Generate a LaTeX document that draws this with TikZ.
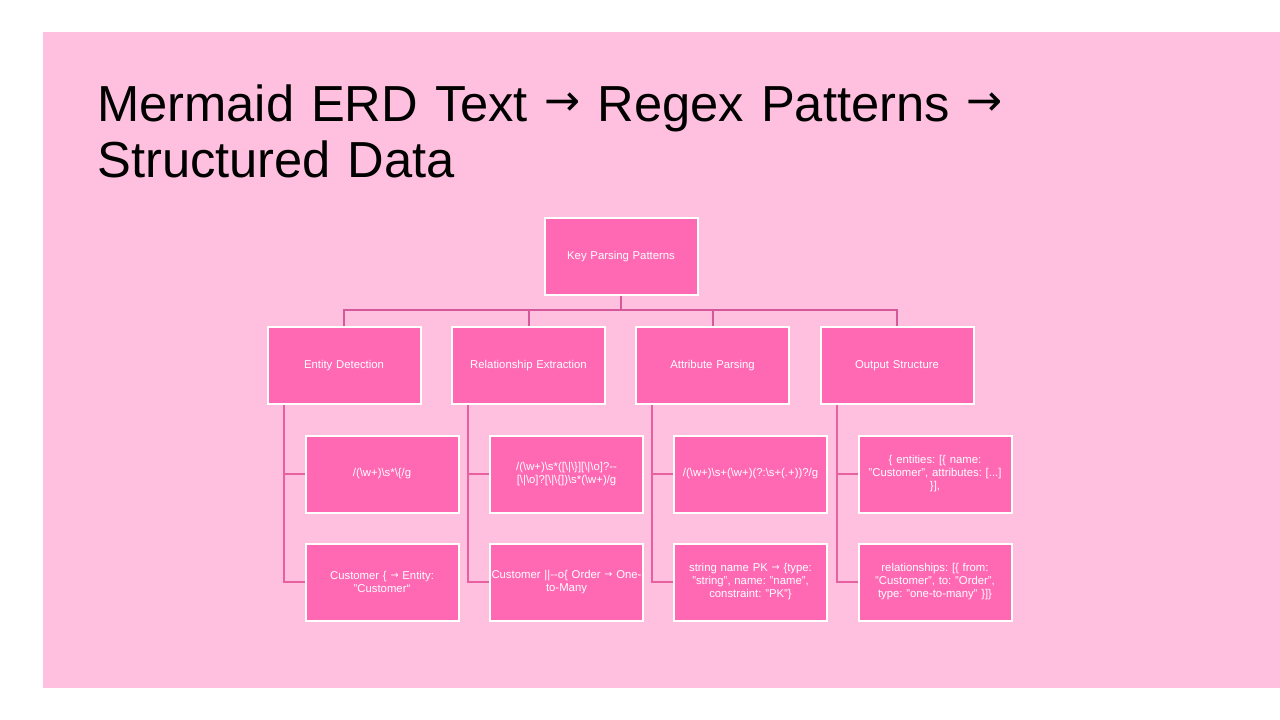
\documentclass[tikz,border=0pt]{standalone}
\usepackage{fontspec}
\setmainfont{Liberation Sans}
\newfontfamily\symfont{DejaVu Sans}
\usepackage{tikz}
\usetikzlibrary{positioning,calc}
\definecolor{bgpink}{HTML}{FFC0E0}
\definecolor{boxpink}{HTML}{FF69B4}
\definecolor{buspink}{HTML}{D5589A}
\definecolor{twigpink}{HTML}{E8609F}
\newcommand\bsl{\textbackslash}
\newcommand\arr{\raisebox{0.12em}{\scalebox{0.85}{\symfont →}}}
\frenchspacing

\begin{document}
\begin{tikzpicture}[x=0.75pt,y=-0.75pt,
    box/.style={draw=white,line width=1.5pt,fill=boxpink,text=white,
      minimum width=114.75pt,minimum height=57.75pt,text width=112pt,
      align=center,inner sep=0pt,font=\fontsize{8.5}{9.75}\selectfont},
    bus/.style={draw=buspink,line width=1.5pt},
    twig/.style={draw=twigpink,line width=1.5pt}]
    \useasboundingbox (0,0) rectangle (1280,720);
    \fill[white] (0,0) rectangle (1280,720);
    \fill[bgpink] (43,32) rectangle (1280,688);

    \node[anchor=base west,text width=760pt,align=left,inner sep=0pt,
      font=\fontsize{38}{42}\selectfont] (title) at (97,122)
    {Mermaid ERD Text \arr{} Regex Patterns \arr\\Structured Data};

    \node[box] (key) at (621,256.5) {Key Parsing Patterns};

    \node[box] (ent) at (344,365.5) {Entity Detection};
    \node[box] (rel) at (528.5,365.5) {Relationship Extraction};
    \node[box] (att) at (712.5,365.5) {Attribute Parsing};
    \node[box] (out) at (897,365.5) {Output Structure};

    \node[box] (entre) at (382,474) {/(\bsl w+)\bsl s*\bsl\{/g};
    \node[box] (entex) at (382,582) {Customer \{ \arr{} Entity:\\"Customer“};
    \node[box] (relre) at (566.5,474)
    {/(\bsl w+)\bsl s*([\bsl|\bsl\}][\bsl|\bsl o]?-{}-\\{[}\bsl|\bsl o]?[\bsl|\bsl\{])\bsl s*(\bsl w+)/g};
    \node[box] (relex) at (566.5,582)
    {\makebox[\linewidth]{Customer ||-{}-o\{ Order \arr{} One-}\\to-Many};
    \node[box] (attre) at (750.5,474) {/(\bsl w+)\bsl s+(\bsl w+)(?:\bsl s+(.+))?/g};
    \node[box] (attex) at (750.5,582)
    {string name PK \arr{} \{type:\\"string", name: "name",\\constraint: "PK"\}};
    \node[box] (outen) at (935,474)
    {\{ entities: [\{ name:\\"Customer", attributes: [...]\\\}],};
    \node[box] (outrl) at (935,582)
    {relationships: [\{ from:\\"Customer", to: "Order",\\type: "one-to-many" \}]\}};

    \foreach \n in {ent,rel,att,out}
    \draw[bus] (key.south) -- ++(0,14) -| (\n.north);

    \foreach \n/\a/\b in {ent/entre/entex,rel/relre/relex,att/attre/attex,out/outen/outrl}
    {
      \draw[twig] ([xshift=12.75pt]\n.south west) |- (\a.west);
      \draw[twig] ([xshift=12.75pt]\n.south west) |- (\b.west);
    }
\end{tikzpicture}
\end{document}
